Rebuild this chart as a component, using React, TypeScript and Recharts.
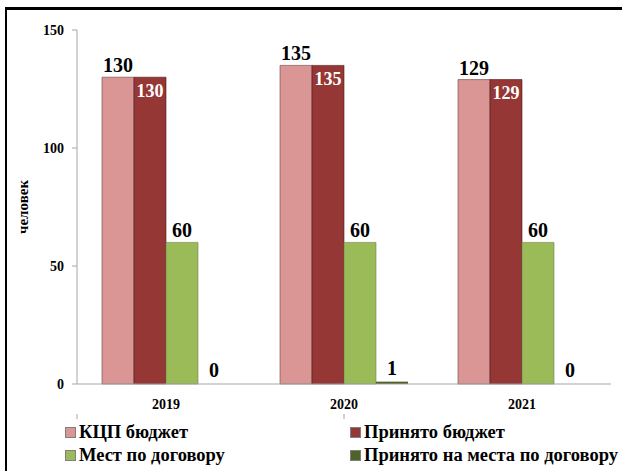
import React from 'react';
import { BarChart, Bar, XAxis, YAxis, LabelList } from 'recharts';

const years = ['2019', '2020', '2021'];
const kcpBudget = [130, 135, 129];
const acceptedBudget = [130, 135, 129];
const contractPlaces = [60, 60, 60];
const acceptedContract = [0, 1, 0];
const yTicks = [0, 50, 100, 150];
const boundaryTicks = [0, 1, 2, 3];

const data = years.map((year, i) => ({
  year,
  kcp: kcpBudget[i],
  accepted: acceptedBudget[i],
  contract: contractPlaces[i],
  acceptedContract: acceptedContract[i],
}));

const font = "'Liberation Serif', 'Times New Roman', serif";

const legendItems = [
  { name: 'КЦП бюджет', color: '#DA9694', left: 65, top: 422 },
  { name: 'Принято бюджет', color: '#953735', left: 350, top: 422 },
  { name: 'Мест по договору', color: '#9BBB59', left: 65, top: 445 },
  { name: 'Принято на места по договору', color: '#4F6228', left: 350, top: 445 },
];

const tickStyle = { fill: '#000', fontSize: 14, fontWeight: 'bold', fontFamily: font };
const bigLabel = { fill: '#000', fontSize: 20, fontWeight: 'bold', fontFamily: font };

const App = () => {
  return (
    <div style={{ position: 'absolute', left: 0, top: 0, width: 622, height: 471, background: '#fff', fontFamily: font, overflow: 'hidden' }}>
      <div style={{ position: 'absolute', left: 5, top: 7, width: 630, height: 480, borderLeft: '2px solid #000', borderTop: '3px solid #000', boxSizing: 'border-box' }} />
      <BarChart
        width={622}
        height={471}
        data={data}
        margin={{ top: 30, right: 11, left: 5, bottom: 56 }}
        barGap={0}
        barSize={32}
        style={{ fontFamily: font }}
      >
        <XAxis
          xAxisId="cat"
          dataKey="year"
          height={30}
          axisLine={{ stroke: '#a6a6a6' }}
          tickLine={false}
          tick={tickStyle}
          tickMargin={9}
        />
        <XAxis
          xAxisId="grid"
          type="number"
          domain={[0, 3]}
          ticks={boundaryTicks}
          allowDataOverflow
          height={1}
          axisLine={false}
          tickLine={{ stroke: '#a6a6a6' }}
          tickSize={5}
          tick={() => <g />}
        />
        <YAxis
          domain={[0, 150]}
          ticks={yTicks}
          width={72}
          axisLine={{ stroke: '#a6a6a6' }}
          tickLine={{ stroke: '#a6a6a6' }}
          tickSize={5}
          tickMargin={8}
          tick={tickStyle}
          label={{
            value: 'человек',
            angle: -90,
            position: 'insideLeft',
            offset: 18,
            style: { textAnchor: 'middle', fontSize: 15, fontWeight: 'bold', fontFamily: font, fill: '#000' },
          }}
        />
        <Bar xAxisId="cat" dataKey="kcp" fill="#DA9694" stroke="#6b4040" strokeWidth={0.6} isAnimationActive={false}>
          <LabelList dataKey="kcp" position="top" offset={5} style={bigLabel} />
        </Bar>
        <Bar xAxisId="cat" dataKey="accepted" fill="#953735" stroke="#4a1a1a" strokeWidth={0.6} isAnimationActive={false}>
          <LabelList dataKey="accepted" position="insideTop" offset={7} style={{ fill: '#fff', fontSize: 18, fontWeight: 'bold', fontFamily: font }} />
        </Bar>
        <Bar xAxisId="cat" dataKey="contract" fill="#9BBB59" stroke="#6f7f50" strokeWidth={0.6} isAnimationActive={false}>
          <LabelList dataKey="contract" position="top" offset={5} style={bigLabel} />
        </Bar>
        <Bar xAxisId="cat" dataKey="acceptedContract" fill="#4F6228" minPointSize={0.01} isAnimationActive={false}>
          <LabelList dataKey="acceptedContract" position="top" offset={7} style={bigLabel} />
        </Bar>
      </BarChart>
      {legendItems.map((item) => (
        <div
          key={item.name}
          style={{ position: 'absolute', left: item.left, top: item.top, display: 'flex', alignItems: 'center', fontSize: 18.5, fontWeight: 'bold', color: '#000', whiteSpace: 'nowrap', lineHeight: '20px', fontFamily: font }}
        >
          <span style={{ display: 'inline-block', width: 9, height: 9, background: item.color, border: '1px solid #7f7f7f', marginRight: 3 }} />
          {item.name}
        </div>
      ))}
    </div>
  );
};

export default App;
